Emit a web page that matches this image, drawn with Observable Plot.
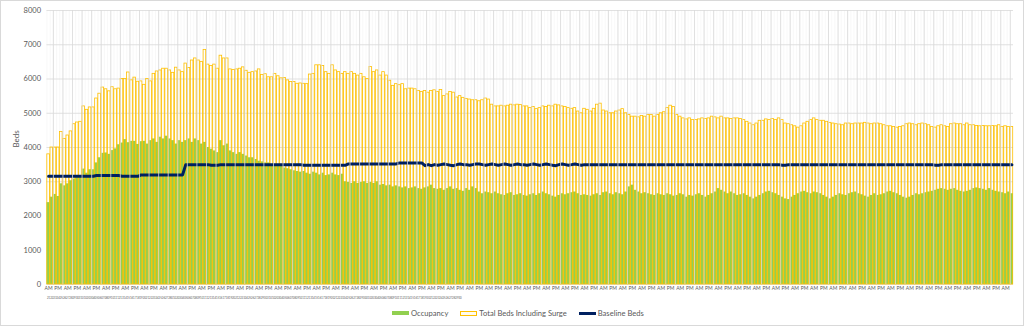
<!DOCTYPE html>
<html><head><meta charset="utf-8">
<script src="https://cdn.jsdelivr.net/npm/d3@7"></script>
<script src="https://cdn.jsdelivr.net/npm/@observablehq/plot@0.6"></script>
<style>
html,body{margin:0;padding:0;background:#fff;}
#frame{position:absolute;left:0;top:0;width:1024px;height:326px;box-sizing:border-box;border:1px solid #d9d9d9;font-family:Lato,"Open Sans",sans-serif;}
#legend{height:20px;display:flex;justify-content:center;align-items:center;font-size:7.6px;color:#595959;gap:12px;padding-left:12px;}
#legend .item{display:flex;align-items:center;}
#legend .sw{display:inline-block;width:17px;margin-right:2px;box-sizing:border-box;}
</style></head><body>
<div id="frame"><div id="chart"></div><div id="legend"></div></div>
<script>
const occupancy = [
2390,2550,2630,2570,2940,2880,2940,3030,3080,3120,
3120,3370,3250,3350,3350,3550,3700,3830,3840,3800,
3910,3960,4080,4130,4230,4140,4180,4180,4090,4170,
4180,4100,4200,4250,4150,4300,4250,4330,4250,4200,
4100,4200,4150,4200,4250,4150,4250,4200,4100,4150,
4000,3950,3900,3850,4200,4050,4100,3900,3850,3800,
3850,3800,3750,3700,3700,3650,3600,
3580,3550,3550,3500,3480,3450,3450,3400,3380,3350,
3320,3300,3280,3300,3250,3220,3280,3250,3200,3250,
3180,3200,3250,3200,3180,3220,3000,2980,2950,3000,
2950,2980,3000,2950,
2980,2950,3000,2900,2920,2880,2900,2850,2880,2850,
2820,2850,2800,2820,2850,2800,2780,2820,2850,2900,
2800,2780,2800,2750,2800,2850,2780,2800,2750,2720,
2800,2750,2850,2800,2700,2650,2700,2680,2650,2700,
2650,2620,2600,2650,2680,2600,2620,2650,2600,2580,
2620,2650,2600,2650,2700,2650,2620,2580,2550,2600,
2650,2620,2650,2680,2700,2650,2600,2620,2600,2580,
2620,2650,2600,2680,2700,2650,2620,2680,2650,2620,
2700,2850,2900,2750,2700,2650,2680,2650,2620,2600,
2650,2620,2600,2650,2620,2580,2600,2650,2620,2550,
2600,2580,2620,2650,2600,2550,2600,2650,2700,2800,
2750,2700,2650,2700,2650,2600,2620,2650,2600,2550,
2500,2550,2600,2650,2700,2720,2680,2650,2600,2550,
2500,2480,2550,2600,2650,2700,2720,2680,2650,2700,
2680,2650,2600,2550,2500,2550,2600,2650,2620,2600,
2650,2680,2700,2650,2620,2580,2550,2600,2650,2600,
2620,2650,2700,2720,2680,2650,2600,2550,2520,2550,
2600,2650,2620,2650,2680,2700,2720,2750,2780,2800,
2780,2750,2780,2800,2750,2720,2700,2720,2750,2800,
2820,2800,2780,2750,2800,2750,2720,2700,2680,2650,
2700,2650
];
const totalBedsIncludingSurge = [
3800,4000,4000,4000,4450,4250,4350,4470,4680,4730,
4750,5200,5100,5170,5170,5430,5570,5750,5700,5640,
5760,5700,5720,6000,6000,6190,5960,6040,5920,5930,
5830,6000,5930,6150,6220,6250,6300,6300,6250,6180,
6330,6250,6200,6450,6320,6540,6600,6540,6500,6850,
6420,6380,6420,6300,6680,6600,6600,6280,6260,6280,
6300,6340,6240,6180,6200,6220,6280,6120,6140,6050,
6050,6150,6080,6020,6030,5960,5910,5910,5860,5870,
5860,5850,6130,6150,6400,6400,6380,6200,6150,6400,
6250,6200,6150,6200,6150,6200,6150,6100,6150,6050,
6000,6350,6200,6250,6100,6200,6100,5950,5800,5850,
5820,5850,5700,5720,5720,5700,5650,5620,5650,5600,
5650,5670,5620,5680,5500,5550,5620,5600,5460,5500,
5450,5420,5400,5380,5380,5350,5380,5430,5400,5250,
5200,5200,5220,5200,5220,5250,5230,5250,5240,5200,
5200,5150,5180,5120,5150,5200,5180,5220,5200,5250,
5230,5200,5180,5150,5130,5150,5050,5000,5130,5100,
5050,5130,5250,5280,5080,5050,5000,5000,5050,5080,
5120,5000,4950,4900,4900,4880,4920,4900,4950,4950,
4900,4950,5000,5030,5150,5220,5180,4950,4900,4850,
4820,4850,4800,4800,4820,4850,4830,4850,4900,4880,
4850,4900,4850,4850,4830,4850,4850,4830,4800,4750,
4700,4650,4700,4780,4780,4820,4800,4830,4800,4850,
4800,4700,4680,4650,4620,4580,4620,4700,4750,4800,
4850,4800,4780,4780,4750,4720,4700,4680,4670,4650,
4700,4700,4680,4700,4700,4700,4720,4700,4680,4700,
4700,4680,4650,4620,4620,4600,4580,4600,4620,4680,
4700,4680,4650,4680,4700,4680,4650,4600,4580,4620,
4650,4620,4600,4680,4700,4680,4680,4650,4700,4650,
4650,4630,4620,4630,4620,4620,4630,4620,4650,4600,
4620,4600,4600
];
const baselineBeds = [
3160,3160,3160,3160,3160,3160,3160,3160,3160,3160,
3160,3160,3160,3160,3160,3180,3180,3180,3180,3180,
3180,3180,3180,3160,3160,3160,3160,3160,3160,3200,
3200,3200,3200,3200,3200,3200,3200,3200,3200,3200,
3200,3200,3200,3500,3500,3500,3500,3500,3500,3500,
3500,3480,3480,3480,3500,3500,3500,3500,3500,3500,
3500,3500,3500,3500,3500,3500,3500,3500,3500,3500,
3500,3500,3500,3500,3500,3500,3500,3500,3500,3500,
3480,3480,3480,3480,3480,3480,3480,3480,3480,3480,
3480,3480,3480,3480,3520,3520,3520,3520,3520,3520,
3520,3520,3520,3520,3520,3520,3520,3520,3520,3520,
3550,3550,3550,3550,3550,3550,3550,3550,3470,3500,
3470,3500,3480,3500,3520,3500,3480,3470,3500,3520,
3500,3500,3480,3500,3520,3520,3500,3480,3500,3520,
3500,3480,3500,3520,3500,3480,3500,3520,3500,3500,
3480,3500,3520,3500,3480,3500,3520,3500,3480,3470,
3500,3520,3500,3480,3500,3520,3500,3480,3500,3500,
3500,3500,3500,3500,3500,3500,3500,3500,3500,3500,
3500,3500,3500,3500,3500,3500,3500,3500,3500,3500,
3500,3500,3500,3500,3500,3500,3500,3500,3500,3500,
3500,3500,3500,3500,3500,3500,3500,3500,3500,3500,
3500,3500,3500,3500,3500,3500,3500,3500,3500,3500,
3500,3500,3500,3500,3500,3500,3500,3500,3500,3500,
3480,3480,3500,3500,3500,3500,3500,3500,3500,3500,
3500,3500,3500,3500,3500,3500,3500,3500,3500,3500,
3500,3500,3500,3500,3500,3500,3500,3500,3500,3500,
3500,3500,3500,3500,3500,3500,3500,3500,3500,3500,
3500,3500,3500,3500,3500,3500,3500,3500,3480,3480,
3500,3500,3500,3500,3500,3500,3500,3500,3500,3500,
3500,3500,3500,3500,3500,3500,3500,3500,3500,3500,
3500,3500,3500
];
const halfDayLabels = ["AM", "PM"];
const yTicks = [0, 1000, 2000, 3000, 4000, 5000, 6000, 7000, 8000];
const firstDay = "2021-01-21";
const dayLabelCount = 130;
const seriesNames = ["Occupancy", "Total Beds Including Surge", "Baseline Beds"];
const colors = {occ: "#92D050", totalStroke: "#FFC000", base: "#002060"};

const N = Math.min(occupancy.length, totalBedsIncludingSurge.length, baselineBeds.length);
const idx = d3.range(N);
const data = idx.map(i => ({i, occ: occupancy[i], total: totalBedsIncludingSurge[i], base: baselineBeds[i]}));
const labelIdx = idx.filter(i => i % 3 === 0);
const sepIdx = idx.filter(i => i % 3 === 2);
const fmt = d3.timeFormat("%d");
const start = d3.timeParse("%Y-%m-%d")(firstDay);
const dayLabels = d3.range(dayLabelCount).map(d => ({i: d, t: fmt(d3.timeDay.offset(start, d))}));
const bw = 966.5 / N;

const chart = Plot.plot({
  width: 1022, height: 302,
  marginLeft: 45.5, marginRight: 10, marginTop: 9, marginBottom: 19,
  style: {fontFamily: "Lato, 'Open Sans', sans-serif", background: "#fff"},
  x: {type: "band", domain: idx, padding: 0, axis: null},
  y: {domain: [0, 8000], axis: null},
  marks: [
    Plot.ruleX(idx, {x: d => d, dx: -bw / 2, stroke: "#f4f4f4", strokeWidth: 0.6}),
    Plot.gridY(yTicks, {stroke: "#d9d9d9", strokeOpacity: 1, strokeWidth: 0.8}),
    Plot.barY(data, {x: "i", y: "occ", fill: colors.occ}),
    Plot.barY(data, {x: "i", y: "total", fill: "none", stroke: colors.totalStroke, strokeWidth: 0.8, insetLeft: 0.3, insetRight: 0.3}),
    Plot.lineY(data, {x: "i", y: "base", stroke: colors.base, strokeWidth: 3}),
    Plot.axisY(yTicks, {tickSize: 0, tickPadding: 6, fontSize: 7.5, color: "#595959", label: null, tickFormat: d => String(d)}),
    Plot.text(["Beds"], {frameAnchor: "left", rotate: -90, dx: -31, fontSize: 8, fill: "#595959"}),
    Plot.axisX(labelIdx, {tickSize: 0, tickPadding: 2, fontSize: 5, color: "#595959", tickFormat: i => halfDayLabels[i % 2], label: null}),
    Plot.tickX(sepIdx, {x: d => d, dx: -bw / 2, y1: 0, y2: -520, stroke: "#d9d9d9", strokeWidth: 0.8, clip: false}),
    Plot.text(dayLabels, {x: "i", text: "t", frameAnchor: "bottom", dy: 14, fontSize: 2.8, fill: "#595959"})
  ]
});
document.getElementById("chart").appendChild(chart);

const legend = document.getElementById("legend");
const sw = [
  `<span class="sw" style="height:4px;background:${colors.occ}"></span>`,
  `<span class="sw" style="height:5px;border:1px solid ${colors.totalStroke};background:#fffbee"></span>`,
  `<span class="sw" style="height:3px;background:${colors.base}"></span>`
];
legend.innerHTML = seriesNames.map((n, k) => `<span class="item">${sw[k]}${n}</span>`).join("");
</script>
</body></html>
